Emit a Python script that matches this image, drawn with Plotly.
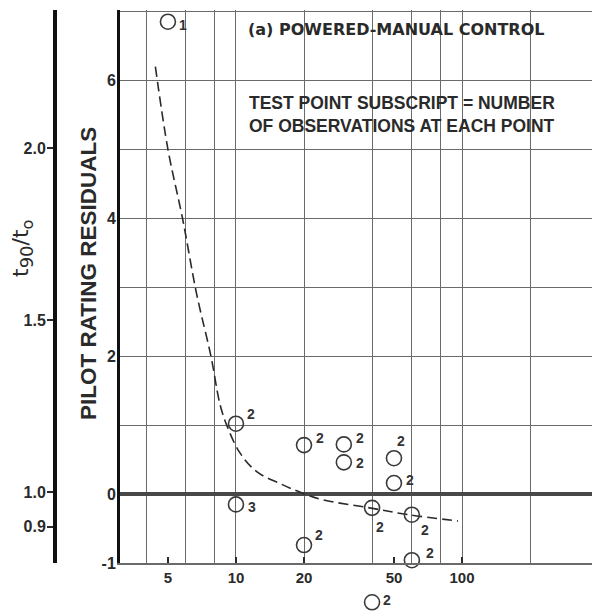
import math
import plotly.graph_objects as go

# Test points: time-ratio parameter (log axis) vs pilot rating residual
pt_x = [5, 10, 10, 20, 30, 30, 50, 50, 40, 60, 20, 60]
pt_y = [6.85, 1.02, -0.15, 0.71, 0.72, 0.46, 0.52, 0.16, -0.2, -0.3, -0.74, -0.96]
pt_n = ["1", "2", "3", "2", "2", "2", "2", "2", "2", "2", "2", "2"]

# Point falling below the bottom of the residual scale
off_x = [40]
off_y = [-1.57]
off_n = ["2"]

# Faired trend curve
fit_x = [4.4, 5.0, 5.8, 6.7, 7.75, 8.5, 9.1, 10.4, 12.4, 15.7, 18.8, 24, 39, 58, 96]
fit_y = [6.2, 5.0, 4.0, 2.9, 2.0, 1.3, 1.0, 0.6, 0.32, 0.15, 0.04, -0.08, -0.2, -0.3, -0.39]

# Axis ticks and grid
x_tick_vals = [5, 10, 20, 50, 100]
x_grid_vals = [4, 6, 8, 10, 20, 40, 60, 80, 100, 200]
y_tick_vals = [-1, 0, 2, 4, 6]
y_grid_vals = [-1, 0, 1, 2, 3, 4, 5, 6, 7]
ratio_tick_vals = [0.9, 1.0, 1.5, 2.0]
ratio_tick_text = ["0.9", "1.0", "1.5", "2.0"]

# Subscript label offsets from each circle (pixels, +y downward)
lbl_dx = [15, 15, 16, 16, 16, 16, 7, 16, 8, 13, 15, 18]
lbl_dy = [3, -10, 3, -7, -6, 1, -17, -3, 19, 15, -10, -7]
off_dx = [15]
off_dy = [-2]

FONT = "Liberation Sans"
INK = "#2a2a2a"
GRID = "#6a6a6a"

W, H = 592, 611
TOP, BOT_PIX = 10, 563            # pixel rows of the residual axis top / bottom
Y_RANGE = [-1, 7.02]
X_RANGE = [0.487, 2.575]          # log10 units
PH = H - TOP                      # paper height (no bottom margin)
main_dom = [(H - BOT_PIX) / PH, 1]
px_per_unit = (BOT_PIX - TOP) / (Y_RANGE[1] - Y_RANGE[0])
strip_dom = [0, 0.07]
strip_top_pix = H - strip_dom[1] * PH
strip_range = [Y_RANGE[0] - (H - BOT_PIX) / px_per_unit,
               Y_RANGE[0] - (strip_top_pix - BOT_PIX) / px_per_unit]

fig = go.Figure()

fig.add_trace(go.Scatter(
    x=fit_x, y=fit_y, mode="lines", line_shape="spline",
    line=dict(color=INK, width=1.6, dash="10px,5px"),
    hoverinfo="skip", showlegend=False,
))

circle = dict(symbol="circle-open", size=15, color="#3a3a3a", line=dict(width=1.6))

fig.add_trace(go.Scatter(
    x=pt_x, y=pt_y, mode="markers", marker=circle,
    cliponaxis=False, showlegend=False,
))

# off-scale point lives in a hidden strip below the plot, sharing the x scale
fig.add_trace(go.Scatter(
    x=off_x, y=off_y, mode="markers", marker=circle,
    xaxis="x2", yaxis="y3", cliponaxis=False, showlegend=False,
))

# placeholder trace so the secondary (ratio) axis is laid out
fig.add_trace(go.Scatter(x=[], y=[], yaxis="y2", showlegend=False))

lbl_font = dict(family=FONT, size=14, color="#333333", weight="bold")
annotations = []
for x, y, n, dx, dy in zip(pt_x, pt_y, pt_n, lbl_dx, lbl_dy):
    annotations.append(dict(x=math.log10(x), y=y, xref="x", yref="y", text=n,
                            showarrow=False, xshift=dx, yshift=-dy, font=lbl_font))
for x, y, n, dx, dy in zip(off_x, off_y, off_n, off_dx, off_dy):
    annotations.append(dict(x=math.log10(x), y=y, xref="x2", yref="y3", text=n,
                            showarrow=False, xshift=dx, yshift=-dy, font=lbl_font))


def paper_note(text, xpix, ypix, font, xanchor="center", **kw):
    return dict(text=text, x=xpix / W, y=1 - (ypix - TOP) / PH, xref="paper",
                yref="paper", showarrow=False, font=font, xanchor=xanchor,
                yanchor="middle", **kw)


annotations += [
    paper_note("PILOT RATING RESIDUALS", 88, 274,
               dict(family=FONT, size=22.5, color=INK, weight="bold"), textangle=-90),
    paper_note("t<sub><span style='font-size:18px'>90</span></sub>/t"
               "<sub><span style='font-size:16px'>o</span></sub>", 22, 249,
               dict(family="DejaVu Sans", size=22, color=INK), textangle=-90),
    paper_note("(a) POWERED-MANUAL CONTROL", 246, 30,
               dict(family="DejaVu Sans", size=16, color=INK, weight="bold"),
               xanchor="left"),
    paper_note("TEST POINT SUBSCRIPT = NUMBER<br>OF OBSERVATIONS AT EACH POINT", 247, 114,
               dict(family=FONT, size=17.5, color=INK, weight="bold"),
               xanchor="left", align="left"),
]

fig.update_layout(
    width=W, height=H,
    margin=dict(l=0, r=0, t=TOP, b=0, pad=0, autoexpand=False),
    paper_bgcolor="white", plot_bgcolor="white",
    font=dict(family=FONT, color=INK),
    xaxis=dict(
        type="log", domain=[120 / W, 1], range=X_RANGE, automargin=False,
        tickvals=x_tick_vals, ticktext=[str(v) for v in x_tick_vals],
        tickfont=dict(family=FONT, size=15, color=INK, weight="bold"),
        ticks="inside", ticklen=6, tickcolor=INK, tickwidth=1.5,
        showgrid=False, zeroline=False,
        showline=True, linecolor=GRID, linewidth=1.5,
        minor=dict(tickvals=x_grid_vals, showgrid=True, gridcolor=GRID, gridwidth=1.3, ticks=""),
    ),
    xaxis2=dict(type="log", domain=[120 / W, 1], range=X_RANGE, anchor="y3",
                visible=False, automargin=False),
    yaxis=dict(
        domain=main_dom, range=Y_RANGE, automargin=False,
        tickvals=y_tick_vals, ticktext=[str(v) for v in y_tick_vals],
        tickfont=dict(family=FONT, size=16, color=INK, weight="bold"),
        ticks="", ticklabelstandoff=-2,
        showgrid=False,
        zeroline=True, zerolinecolor="#484848", zerolinewidth=4,
        showline=True, linecolor="#111111", linewidth=3,
        minor=dict(tickvals=y_grid_vals, showgrid=True, gridcolor=GRID, gridwidth=1.3, ticks=""),
    ),
    yaxis2=dict(
        overlaying="y", anchor="free", position=55 / W, side="left", automargin=False,
        range=[0.794, 2.401],
        tickvals=ratio_tick_vals, ticktext=ratio_tick_text,
        tickfont=dict(family=FONT, size=16, color=INK, weight="bold"),
        ticks="outside", ticklen=6, tickwidth=1.5, tickcolor=INK, ticklabelstandoff=-2,
        showgrid=False, zeroline=False,
        showline=True, linecolor="#111111", linewidth=4,
    ),
    yaxis3=dict(domain=strip_dom, range=strip_range, anchor="x2", visible=False,
                automargin=False),
    annotations=annotations,
)

fig.write_html("out.html")
